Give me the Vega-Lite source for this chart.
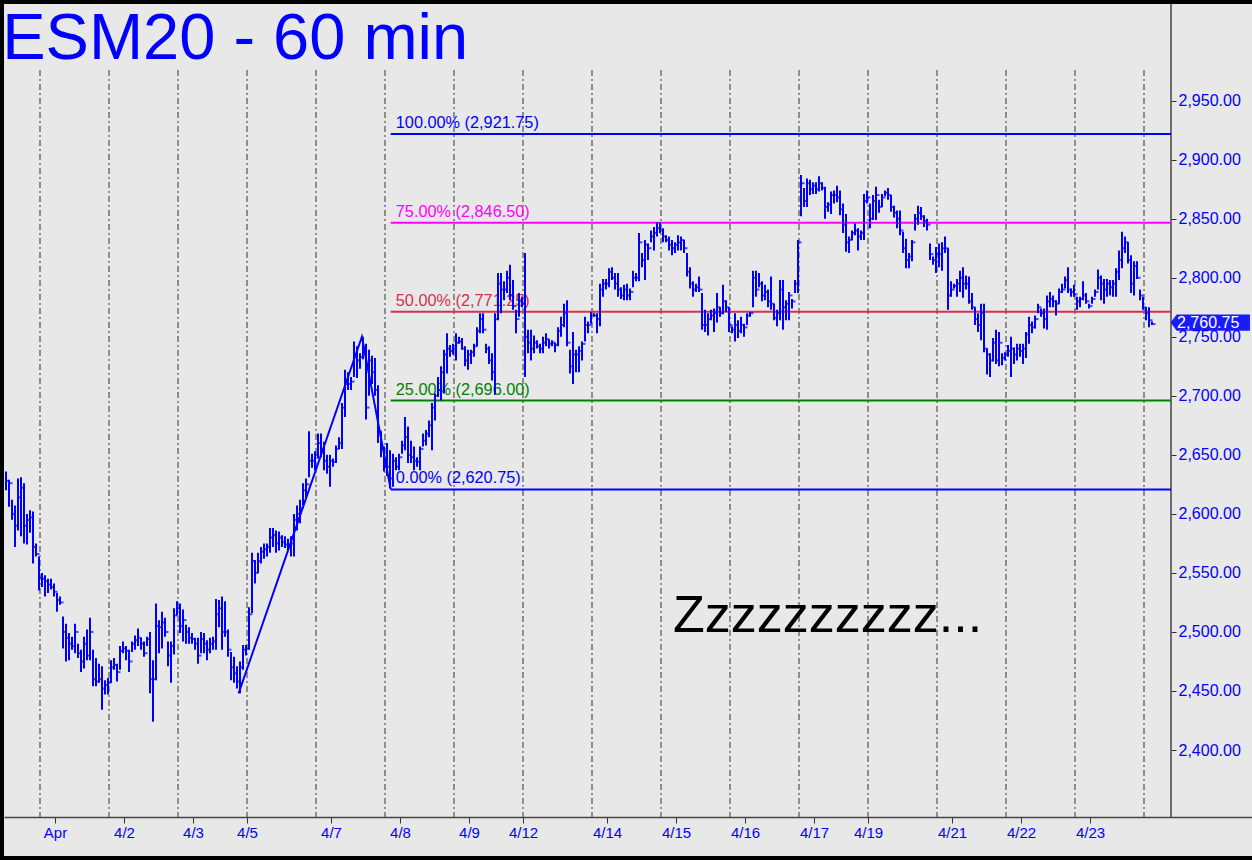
{
"$schema": "https://vega.github.io/schema/vega-lite/v6.json",
"width": 1248,
"height": 852,
"autosize": "none",
"padding": {"left": 4, "top": 4, "right": 0, "bottom": 4},
"background": "#000000",
"config": {"view": {"fill": "#e8e8e8", "stroke": null}, "font": "Liberation Sans"},
"datasets": {
"bars": [
{"k":0,"h":2636,"l":2620,"c":2628},{"k":1,"h":2629,"l":2606,"c":2626},{"k":2,"h":2612,"l":2595,"c":2600},{"k":3,"h":2607,"l":2572,"c":2590},{"k":4,"h":2630,"l":2586,"c":2614},{"k":5,"h":2631,"l":2581,"c":2622},{"k":6,"h":2626,"l":2575,"c":2590},{"k":7,"h":2600,"l":2574,"c":2595},{"k":8,"h":2603,"l":2584,"c":2597},{"k":9,"h":2602,"l":2558,"c":2572},{"k":10,"h":2575,"l":2564,"c":2566},{"k":11,"h":2564,"l":2535,"c":2546},
{"k":12,"h":2550,"l":2538,"c":2545},{"k":13,"h":2548,"l":2530,"c":2543},{"k":14,"h":2545,"l":2533,"c":2540},{"k":15,"h":2545,"l":2536,"c":2538},{"k":16,"h":2541,"l":2530,"c":2534},{"k":17,"h":2533,"l":2517,"c":2527},{"k":18,"h":2530,"l":2523,"c":2525},{"k":19,"h":2513,"l":2486,"c":2500},{"k":20,"h":2507,"l":2475,"c":2495},{"k":21,"h":2499,"l":2476,"c":2490},{"k":22,"h":2496,"l":2485,"c":2488},{"k":23,"h":2507,"l":2482,"c":2500},{"k":24,"h":2490,"l":2478,"c":2482},{"k":25,"h":2485,"l":2466,"c":2475},{"k":26,"h":2496,"l":2469,"c":2490},{"k":27,"h":2502,"l":2476,"c":2480},{"k":28,"h":2512,"l":2476,"c":2500},{"k":29,"h":2485,"l":2454,"c":2460},{"k":30,"h":2478,"l":2454,"c":2458},{"k":31,"h":2473,"l":2457,"c":2460},{"k":32,"h":2471,"l":2434,"c":2452},{"k":33,"h":2459,"l":2447,"c":2455},{"k":34,"h":2461,"l":2447,"c":2457},
{"k":35,"h":2476,"l":2457,"c":2470},{"k":36,"h":2478,"l":2468,"c":2472},{"k":37,"h":2473,"l":2458,"c":2466},{"k":38,"h":2488,"l":2468,"c":2484},{"k":39,"h":2492,"l":2482,"c":2486},{"k":40,"h":2488,"l":2476,"c":2484},{"k":41,"h":2485,"l":2466,"c":2475},{"k":42,"h":2492,"l":2483,"c":2490},{"k":43,"h":2497,"l":2485,"c":2493},{"k":44,"h":2503,"l":2488,"c":2495},{"k":45,"h":2495,"l":2485,"c":2490},{"k":46,"h":2492,"l":2479,"c":2482},{"k":47,"h":2496,"l":2488,"c":2494},{"k":48,"h":2500,"l":2448,"c":2460},{"k":49,"h":2476,"l":2424,"c":2460},{"k":50,"h":2524,"l":2459,"c":2505},{"k":51,"h":2510,"l":2482,"c":2504},{"k":52,"h":2517,"l":2486,"c":2508},{"k":53,"h":2512,"l":2496,"c":2500},{"k":54,"h":2492,"l":2471,"c":2480},{"k":55,"h":2492,"l":2457,"c":2488},{"k":56,"h":2520,"l":2481,"c":2514},{"k":57,"h":2526,"l":2514,"c":2520},
{"k":58,"h":2524,"l":2499,"c":2505},{"k":59,"h":2519,"l":2492,"c":2510},{"k":60,"h":2506,"l":2490,"c":2500},{"k":61,"h":2504,"l":2490,"c":2495},{"k":62,"h":2499,"l":2490,"c":2494},{"k":63,"h":2495,"l":2485,"c":2490},{"k":64,"h":2495,"l":2473,"c":2480},{"k":65,"h":2500,"l":2482,"c":2494},{"k":66,"h":2499,"l":2482,"c":2490},{"k":67,"h":2493,"l":2476,"c":2485},{"k":68,"h":2495,"l":2482,"c":2490},{"k":69,"h":2496,"l":2485,"c":2492},{"k":70,"h":2528,"l":2485,"c":2515},{"k":71,"h":2527,"l":2504,"c":2520},{"k":72,"h":2530,"l":2485,"c":2500},{"k":73,"h":2526,"l":2496,"c":2500},{"k":74,"h":2502,"l":2479,"c":2485},{"k":75,"h":2483,"l":2459,"c":2470},{"k":76,"h":2479,"l":2457,"c":2465},{"k":77,"h":2471,"l":2452,"c":2458},{"k":78,"h":2475,"l":2448,"c":2470},{"k":79,"h":2489,"l":2468,"c":2485},{"k":80,"h":2489,"l":2480,"c":2486},
{"k":81,"h":2521,"l":2485,"c":2515},{"k":82,"h":2567,"l":2516,"c":2560},{"k":83,"h":2561,"l":2541,"c":2550},{"k":84,"h":2567,"l":2550,"c":2560},{"k":85,"h":2572,"l":2558,"c":2568},{"k":86,"h":2575,"l":2562,"c":2570},{"k":87,"h":2575,"l":2564,"c":2572},{"k":88,"h":2588,"l":2567,"c":2580},{"k":89,"h":2588,"l":2572,"c":2582},{"k":90,"h":2586,"l":2567,"c":2575},{"k":91,"h":2585,"l":2569,"c":2580},{"k":92,"h":2582,"l":2572,"c":2576},{"k":93,"h":2581,"l":2571,"c":2574},{"k":94,"h":2579,"l":2569,"c":2572},{"k":95,"h":2581,"l":2564,"c":2575},{"k":96,"h":2600,"l":2564,"c":2595},{"k":97,"h":2607,"l":2586,"c":2600},{"k":98,"h":2612,"l":2592,"c":2605},{"k":99,"h":2626,"l":2607,"c":2620},{"k":100,"h":2630,"l":2614,"c":2625},{"k":101,"h":2670,"l":2631,"c":2645},{"k":102,"h":2651,"l":2639,"c":2645},{"k":103,"h":2653,"l":2637,"c":2650},
{"k":104,"h":2668,"l":2647,"c":2660},{"k":105,"h":2668,"l":2648,"c":2655},{"k":106,"h":2661,"l":2637,"c":2645},{"k":107,"h":2650,"l":2634,"c":2640},{"k":108,"h":2650,"l":2623,"c":2645},{"k":109,"h":2647,"l":2640,"c":2644},{"k":110,"h":2658,"l":2643,"c":2655},{"k":111,"h":2665,"l":2655,"c":2660},{"k":112,"h":2694,"l":2655,"c":2690},{"k":113,"h":2722,"l":2682,"c":2710},{"k":114,"h":2720,"l":2705,"c":2710},{"k":115,"h":2716,"l":2705,"c":2712},{"k":116,"h":2746,"l":2716,"c":2735},{"k":117,"h":2742,"l":2715,"c":2730},{"k":118,"h":2736,"l":2723,"c":2733},{"k":119,"h":2750,"l":2731,"c":2740},{"k":120,"h":2744,"l":2680,"c":2690},{"k":121,"h":2739,"l":2700,"c":2730},{"k":122,"h":2734,"l":2710,"c":2720},{"k":123,"h":2732,"l":2700,"c":2705},{"k":124,"h":2709,"l":2660,"c":2670},{"k":125,"h":2670,"l":2648,"c":2655},{"k":126,"h":2657,"l":2636,"c":2640},
{"k":127,"h":2660,"l":2632,"c":2640},{"k":128,"h":2654,"l":2622,"c":2630},{"k":129,"h":2651,"l":2623,"c":2645},{"k":130,"h":2648,"l":2637,"c":2640},{"k":131,"h":2651,"l":2637,"c":2648},{"k":132,"h":2662,"l":2651,"c":2658},{"k":133,"h":2682,"l":2654,"c":2665},{"k":134,"h":2674,"l":2643,"c":2650},{"k":135,"h":2662,"l":2643,"c":2648},{"k":136,"h":2657,"l":2637,"c":2645},{"k":137,"h":2648,"l":2640,"c":2644},{"k":138,"h":2657,"l":2637,"c":2655},{"k":139,"h":2668,"l":2657,"c":2662},{"k":140,"h":2671,"l":2658,"c":2668},{"k":141,"h":2679,"l":2665,"c":2675},{"k":142,"h":2694,"l":2654,"c":2690},{"k":143,"h":2702,"l":2679,"c":2700},{"k":144,"h":2716,"l":2699,"c":2705},{"k":145,"h":2725,"l":2696,"c":2720},{"k":146,"h":2739,"l":2702,"c":2735},{"k":147,"h":2753,"l":2719,"c":2740},{"k":148,"h":2743,"l":2733,"c":2738},{"k":149,"h":2744,"l":2735,"c":2740},
{"k":150,"h":2753,"l":2730,"c":2745},{"k":151,"h":2750,"l":2744,"c":2746},{"k":152,"h":2749,"l":2739,"c":2740},{"k":153,"h":2742,"l":2725,"c":2730},{"k":154,"h":2739,"l":2722,"c":2735},{"k":155,"h":2739,"l":2727,"c":2737},{"k":156,"h":2744,"l":2733,"c":2742},{"k":157,"h":2758,"l":2742,"c":2755},{"k":158,"h":2770,"l":2753,"c":2765},{"k":159,"h":2770,"l":2753,"c":2756},{"k":160,"h":2744,"l":2736,"c":2740},{"k":161,"h":2742,"l":2727,"c":2730},{"k":162,"h":2736,"l":2713,"c":2720},{"k":163,"h":2770,"l":2701,"c":2765},{"k":164,"h":2804,"l":2764,"c":2795},{"k":165,"h":2804,"l":2770,"c":2790},{"k":166,"h":2797,"l":2781,"c":2790},{"k":167,"h":2806,"l":2787,"c":2800},{"k":168,"h":2811,"l":2781,"c":2785},{"k":169,"h":2798,"l":2773,"c":2776},{"k":170,"h":2773,"l":2753,"c":2765},{"k":171,"h":2787,"l":2767,"c":2780},{"k":172,"h":2784,"l":2775,"c":2778},
{"k":173,"h":2821,"l":2716,"c":2750},{"k":174,"h":2756,"l":2736,"c":2745},{"k":175,"h":2756,"l":2730,"c":2740},{"k":176,"h":2751,"l":2736,"c":2745},{"k":177,"h":2747,"l":2740,"c":2742},{"k":178,"h":2744,"l":2736,"c":2740},{"k":179,"h":2750,"l":2736,"c":2745},{"k":180,"h":2753,"l":2742,"c":2748},{"k":181,"h":2748,"l":2740,"c":2744},{"k":182,"h":2747,"l":2742,"c":2745},{"k":183,"h":2745,"l":2737,"c":2743},{"k":184,"h":2758,"l":2742,"c":2755},{"k":185,"h":2767,"l":2750,"c":2760},{"k":186,"h":2778,"l":2758,"c":2770},{"k":187,"h":2781,"l":2742,"c":2745},{"k":188,"h":2739,"l":2719,"c":2725},{"k":189,"h":2754,"l":2710,"c":2735},{"k":190,"h":2739,"l":2720,"c":2735},{"k":191,"h":2742,"l":2720,"c":2738},{"k":192,"h":2746,"l":2730,"c":2744},{"k":193,"h":2767,"l":2746,"c":2760},{"k":194,"h":2763,"l":2753,"c":2760},{"k":195,"h":2771,"l":2761,"c":2768},
{"k":196,"h":2770,"l":2767,"c":2768},{"k":197,"h":2770,"l":2753,"c":2765},{"k":198,"h":2795,"l":2759,"c":2790},{"k":199,"h":2799,"l":2784,"c":2795},{"k":200,"h":2799,"l":2790,"c":2795},{"k":201,"h":2808,"l":2792,"c":2805},{"k":202,"h":2809,"l":2798,"c":2800},{"k":203,"h":2804,"l":2790,"c":2795},{"k":204,"h":2804,"l":2784,"c":2790},{"k":205,"h":2792,"l":2782,"c":2785},{"k":206,"h":2794,"l":2781,"c":2790},{"k":207,"h":2795,"l":2781,"c":2785},{"k":208,"h":2791,"l":2781,"c":2788},{"k":209,"h":2806,"l":2792,"c":2800},{"k":210,"h":2804,"l":2797,"c":2800},{"k":211,"h":2838,"l":2797,"c":2830},{"k":212,"h":2821,"l":2809,"c":2815},{"k":213,"h":2832,"l":2798,"c":2828},{"k":214,"h":2829,"l":2815,"c":2825},{"k":215,"h":2840,"l":2830,"c":2835},{"k":216,"h":2843,"l":2823,"c":2838},{"k":217,"h":2847,"l":2835,"c":2842},{"k":218,"h":2847,"l":2838,"c":2840},
{"k":219,"h":2842,"l":2830,"c":2835},{"k":220,"h":2836,"l":2830,"c":2832},{"k":221,"h":2835,"l":2823,"c":2828},{"k":222,"h":2832,"l":2819,"c":2825},{"k":223,"h":2830,"l":2821,"c":2828},{"k":224,"h":2836,"l":2823,"c":2830},{"k":225,"h":2835,"l":2823,"c":2832},{"k":226,"h":2832,"l":2821,"c":2825},{"k":227,"h":2821,"l":2801,"c":2805},{"k":228,"h":2809,"l":2791,"c":2795},{"k":229,"h":2797,"l":2784,"c":2790},{"k":230,"h":2795,"l":2788,"c":2792},{"k":231,"h":2801,"l":2788,"c":2790},{"k":232,"h":2787,"l":2756,"c":2760},{"k":233,"h":2773,"l":2754,"c":2760},{"k":234,"h":2770,"l":2751,"c":2765},{"k":235,"h":2773,"l":2764,"c":2768},{"k":236,"h":2774,"l":2754,"c":2770},{"k":237,"h":2787,"l":2762,"c":2775},{"k":238,"h":2775,"l":2767,"c":2770},{"k":239,"h":2794,"l":2769,"c":2780},{"k":240,"h":2781,"l":2771,"c":2775},{"k":241,"h":2775,"l":2754,"c":2760},
{"k":242,"h":2759,"l":2753,"c":2756},{"k":243,"h":2770,"l":2746,"c":2760},{"k":244,"h":2764,"l":2749,"c":2755},{"k":245,"h":2767,"l":2753,"c":2760},{"k":246,"h":2761,"l":2750,"c":2758},{"k":247,"h":2770,"l":2760,"c":2768},{"k":248,"h":2771,"l":2767,"c":2770},{"k":249,"h":2806,"l":2775,"c":2800},{"k":250,"h":2806,"l":2784,"c":2790},{"k":251,"h":2804,"l":2792,"c":2795},{"k":252,"h":2797,"l":2780,"c":2785},{"k":253,"h":2794,"l":2781,"c":2788},{"k":254,"h":2790,"l":2775,"c":2780},{"k":255,"h":2801,"l":2773,"c":2778},{"k":256,"h":2778,"l":2764,"c":2766},{"k":257,"h":2773,"l":2759,"c":2770},{"k":258,"h":2798,"l":2764,"c":2790},{"k":259,"h":2798,"l":2756,"c":2775},{"k":260,"h":2781,"l":2764,"c":2778},{"k":261,"h":2788,"l":2764,"c":2785},{"k":262,"h":2782,"l":2774,"c":2780},{"k":263,"h":2798,"l":2787,"c":2795},{"k":264,"h":2832,"l":2787,"c":2830},
{"k":265,"h":2887,"l":2852,"c":2880},{"k":266,"h":2876,"l":2860,"c":2865},{"k":267,"h":2884,"l":2860,"c":2880},{"k":268,"h":2883,"l":2870,"c":2875},{"k":269,"h":2881,"l":2871,"c":2878},{"k":270,"h":2881,"l":2871,"c":2875},{"k":271,"h":2886,"l":2873,"c":2880},{"k":272,"h":2881,"l":2874,"c":2876},{"k":273,"h":2877,"l":2850,"c":2860},{"k":274,"h":2864,"l":2856,"c":2862},{"k":275,"h":2873,"l":2854,"c":2870},{"k":276,"h":2874,"l":2863,"c":2870},{"k":277,"h":2878,"l":2864,"c":2868},{"k":278,"h":2874,"l":2853,"c":2858},{"k":279,"h":2863,"l":2838,"c":2845},{"k":280,"h":2854,"l":2822,"c":2830},{"k":281,"h":2835,"l":2821,"c":2832},{"k":282,"h":2840,"l":2832,"c":2838},{"k":283,"h":2846,"l":2836,"c":2840},{"k":284,"h":2842,"l":2823,"c":2835},{"k":285,"h":2840,"l":2832,"c":2838},{"k":286,"h":2871,"l":2832,"c":2865},{"k":287,"h":2874,"l":2863,"c":2868},
{"k":288,"h":2863,"l":2842,"c":2850},{"k":289,"h":2870,"l":2849,"c":2865},{"k":290,"h":2877,"l":2849,"c":2870},{"k":291,"h":2866,"l":2855,"c":2860},{"k":292,"h":2871,"l":2860,"c":2868},{"k":293,"h":2874,"l":2869,"c":2872},{"k":294,"h":2876,"l":2866,"c":2870},{"k":295,"h":2870,"l":2856,"c":2860},{"k":296,"h":2861,"l":2851,"c":2855},{"k":297,"h":2857,"l":2842,"c":2850},{"k":298,"h":2857,"l":2836,"c":2840},{"k":299,"h":2839,"l":2821,"c":2825},{"k":300,"h":2833,"l":2808,"c":2815},{"k":301,"h":2821,"l":2808,"c":2818},{"k":302,"h":2832,"l":2814,"c":2830},{"k":303,"h":2854,"l":2840,"c":2850},{"k":304,"h":2861,"l":2845,"c":2855},{"k":305,"h":2860,"l":2849,"c":2852},{"k":306,"h":2853,"l":2843,"c":2848},{"k":307,"h":2850,"l":2840,"c":2845},{"k":308,"h":2829,"l":2815,"c":2820},{"k":309,"h":2818,"l":2811,"c":2815},{"k":310,"h":2826,"l":2804,"c":2820},
{"k":311,"h":2829,"l":2809,"c":2820},{"k":312,"h":2830,"l":2806,"c":2825},{"k":313,"h":2835,"l":2821,"c":2825},{"k":314,"h":2825,"l":2773,"c":2785},{"k":315,"h":2797,"l":2784,"c":2790},{"k":316,"h":2795,"l":2791,"c":2793},{"k":317,"h":2799,"l":2784,"c":2795},{"k":318,"h":2806,"l":2788,"c":2800},{"k":319,"h":2809,"l":2783,"c":2795},{"k":320,"h":2802,"l":2790,"c":2795},{"k":321,"h":2801,"l":2778,"c":2780},{"k":322,"h":2787,"l":2773,"c":2775},{"k":323,"h":2775,"l":2760,"c":2765},{"k":324,"h":2770,"l":2754,"c":2760},{"k":325,"h":2778,"l":2747,"c":2770},{"k":326,"h":2778,"l":2737,"c":2740},{"k":327,"h":2740,"l":2718,"c":2735},{"k":328,"h":2736,"l":2716,"c":2730},{"k":329,"h":2749,"l":2729,"c":2745},{"k":330,"h":2756,"l":2727,"c":2730},{"k":331,"h":2754,"l":2725,"c":2745},{"k":332,"h":2736,"l":2726,"c":2732},{"k":333,"h":2737,"l":2730,"c":2735},
{"k":334,"h":2743,"l":2733,"c":2738},{"k":335,"h":2750,"l":2716,"c":2740},{"k":336,"h":2741,"l":2727,"c":2735},{"k":337,"h":2744,"l":2730,"c":2740},{"k":338,"h":2744,"l":2733,"c":2738},{"k":339,"h":2744,"l":2727,"c":2740},{"k":340,"h":2754,"l":2732,"c":2752},{"k":341,"h":2767,"l":2744,"c":2760},{"k":342,"h":2763,"l":2753,"c":2758},{"k":343,"h":2768,"l":2757,"c":2765},{"k":344,"h":2778,"l":2770,"c":2775},{"k":345,"h":2774,"l":2767,"c":2770},{"k":346,"h":2774,"l":2757,"c":2765},{"k":347,"h":2785,"l":2756,"c":2780},{"k":348,"h":2788,"l":2775,"c":2782},{"k":349,"h":2785,"l":2775,"c":2780},{"k":350,"h":2781,"l":2768,"c":2778},{"k":351,"h":2791,"l":2778,"c":2788},{"k":352,"h":2795,"l":2787,"c":2790},{"k":353,"h":2801,"l":2791,"c":2798},{"k":354,"h":2809,"l":2787,"c":2790},{"k":355,"h":2791,"l":2784,"c":2788},{"k":356,"h":2794,"l":2784,"c":2786},
{"k":357,"h":2784,"l":2773,"c":2780},{"k":358,"h":2784,"l":2775,"c":2782},{"k":359,"h":2797,"l":2781,"c":2785},{"k":360,"h":2787,"l":2778,"c":2780},{"k":361,"h":2778,"l":2774,"c":2776},{"k":362,"h":2784,"l":2778,"c":2782},{"k":363,"h":2790,"l":2784,"c":2788},{"k":364,"h":2807,"l":2790,"c":2800},{"k":365,"h":2802,"l":2781,"c":2795},{"k":366,"h":2799,"l":2778,"c":2790},{"k":367,"h":2799,"l":2784,"c":2795},{"k":368,"h":2798,"l":2785,"c":2792},{"k":369,"h":2798,"l":2784,"c":2795},{"k":370,"h":2808,"l":2784,"c":2805},{"k":371,"h":2823,"l":2798,"c":2815},{"k":372,"h":2839,"l":2808,"c":2825},{"k":373,"h":2835,"l":2821,"c":2830},{"k":374,"h":2830,"l":2812,"c":2815},{"k":375,"h":2819,"l":2787,"c":2795},{"k":376,"h":2814,"l":2785,"c":2810},{"k":377,"h":2814,"l":2799,"c":2800},{"k":378,"h":2790,"l":2781,"c":2785},{"k":379,"h":2784,"l":2773,"c":2775},
{"k":380,"h":2775,"l":2764,"c":2770},{"k":381,"h":2775,"l":2758,"c":2764},{"k":382,"h":2763,"l":2760,"c":2760.75}
],
"days": [{"g":11.5},{"g":34.5},{"g":57.5},{"g":80.5},{"g":103.5},{"g":126.5},{"g":149.5},{"g":172.5},{"g":195.5},{"g":218.5},{"g":241.5},{"g":264.5},{"g":287.5},{"g":310.5},{"g":333.5},{"g":356.5},{"g":379.5}],
"fib": [
{"lvl":"100","v":2921.75,"t":"100.00% (2,921.75)"},
{"lvl":"75","v":2846.5,"t":"75.00% (2,846.50)"},
{"lvl":"50","v":2771.25,"t":"50.00% (2,771.25)"},
{"lvl":"25","v":2696.0,"t":"25.00% (2,696.00)"},
{"lvl":"0","v":2620.75,"t":"0.00% (2,620.75)"}
],
"abc": [{"k":77.7,"p":2448},{"k":118.8,"p":2750},{"k":128.4,"p":2620.75}],
"one": [{"last": 2760.75}]
},
"layer": [
{
"data": {"name": "days"},
"mark": {"type": "rule", "color": "#333333", "strokeWidth": 1, "strokeDash": [6, 3, 2, 3]},
"encoding": {
"x": {"field": "g", "type": "quantitative", "scale": {"domain": [-0.5, 415.5], "nice": false, "zero": false},
"axis": {"orient": "bottom", "offset": -39, "values": [16.5,39.5,62.5,80.5,108.5,131.5,154.5,172.5,200.5,223.5,246.5,269.5,287.5,315.5,338.5,361.5],
"labelExpr": "['Apr','4/2','4/3','4/5','4/7','4/8','4/9','4/12','4/14','4/15','4/16','4/17','4/19','4/21','4/22','4/23'][indexof([16.5,39.5,62.5,80.5,108.5,131.5,154.5,172.5,200.5,223.5,246.5,269.5,287.5,315.5,338.5,361.5], datum.value)]",
"labelColor": "#0000ff", "labelFontSize": 15, "labelFont": "Liberation Sans", "tickSize": 6, "tickColor": "#333333", "labelPadding": 2,
"domainColor": "#444444", "domainWidth": 1.5, "grid": false, "title": null, "labelFlush": false, "labelOverlap": false, "zindex": 1}},
"y": {"datum": 2976, "type": "quantitative", "scale": {"domain": [2310.22, 3031.88], "nice": false, "zero": false},
"axis": {"orient": "right", "offset": -81, "values": [2400,2450,2500,2550,2600,2650,2700,2750,2800,2850,2900,2950], "format": ",.2f",
"labelColor": "#0000ff", "labelFontSize": 16, "labelFont": "Liberation Sans", "tickSize": 5, "tickColor": "#333333", "labelPadding": 2,
"domain": false, "grid": false, "title": null, "zindex": 1}},
"y2": {"datum": 2343.3}
}
},
{
"data": {"name": "one"},
"mark": {"type": "rule", "color": "#444444", "strokeWidth": 1.5},
"encoding": {"x": {"datum": 388.5}, "y": {"datum": 3031.88}, "y2": {"datum": 2343.3}}
},
{
"data": {"name": "fib"},
"mark": {"type": "rule", "strokeWidth": 2},
"encoding": {
"x": {"datum": 128.4}, "x2": {"datum": 388.5},
"y": {"field": "v", "type": "quantitative"},
"color": {"field": "lvl", "type": "nominal", "scale": {"domain": ["100","75","50","25","0"], "range": ["#0000ff","#ff00ff","#d4314f","#008000","#0000ff"]}, "legend": null}
}
},
{
"data": {"name": "fib"},
"mark": {"type": "text", "align": "left", "baseline": "alphabetic", "dy": -6, "fontSize": 16.3, "font": "Liberation Sans"},
"encoding": {
"x": {"datum": 130.1},
"y": {"field": "v", "type": "quantitative"},
"text": {"field": "t"},
"color": {"field": "lvl", "type": "nominal", "legend": null}
}
},
{
"data": {"name": "bars"},
"mark": {"type": "rule", "color": "#0000ff", "strokeWidth": 2, "xOffset": 0.5},
"encoding": {
"x": {"field": "k", "type": "quantitative"},
"y": {"field": "h", "type": "quantitative"},
"y2": {"field": "l"}
}
},
{
"data": {"name": "bars"},
"mark": {"type": "tick", "orient": "horizontal", "color": "#0000ff", "size": 3, "thickness": 2, "xOffset": 2.5},
"encoding": {
"x": {"field": "k", "type": "quantitative"},
"y": {"field": "c", "type": "quantitative"}
}
},
{
"data": {"name": "abc"},
"mark": {"type": "line", "color": "#0000ff", "strokeWidth": 2},
"encoding": {
"x": {"field": "k", "type": "quantitative"},
"y": {"field": "p", "type": "quantitative"}
}
},
{
"data": {"name": "one"},
"mark": {"type": "text", "text": "ESM20 - 60 min", "align": "left", "baseline": "alphabetic", "fontSize": 65, "font": "Liberation Sans", "color": "#0000ff"},
"encoding": {"x": {"datum": -1.1}, "y": {"datum": 2985}}
},
{
"data": {"name": "one"},
"mark": {"type": "text", "text": "Zzzzzzzzzz...", "align": "left", "baseline": "alphabetic", "fontSize": 52, "font": "Liberation Sans", "color": "#000000"},
"encoding": {"x": {"datum": 222.5}, "y": {"datum": 2500}}
},
{
"data": {"name": "one"},
"mark": {"type": "point", "shape": "M-1,0L-0.85,-0.207L1,-0.207L1,0.207L-0.85,0.207Z", "filled": true, "size": 6289, "color": "#1a1aff", "opacity": 1, "yOffset": -1.5},
"encoding": {"x": {"datum": 401.6}, "y": {"field": "last", "type": "quantitative"}}
},
{
"data": {"name": "one"},
"mark": {"type": "text", "align": "left", "baseline": "middle", "fontSize": 16, "font": "Liberation Sans", "color": "#ffffff", "yOffset": -1.5},
"encoding": {"x": {"datum": 390.5}, "y": {"field": "last", "type": "quantitative"}, "text": {"field": "last", "type": "quantitative", "format": ",.2f"}}
}
]
}
